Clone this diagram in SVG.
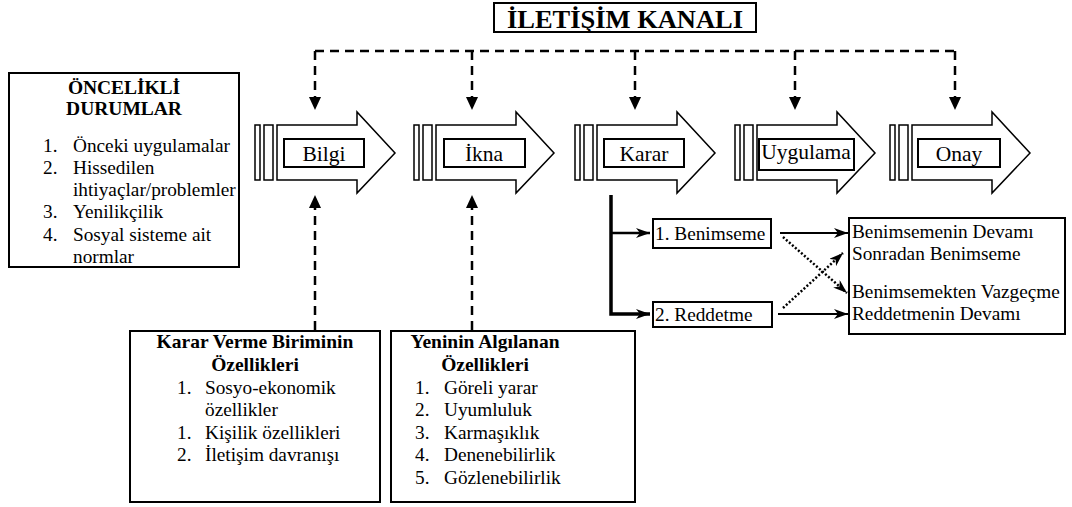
<svg xmlns="http://www.w3.org/2000/svg" width="1072" height="507" viewBox="0 0 1072 507" font-family="'Liberation Serif', 'Times New Roman', serif">
<defs>
<style>
.t{font-family:"Liberation Serif","Times New Roman",serif;font-size:19.3px;fill:#000}
.b{font-family:"Liberation Serif","Times New Roman",serif;font-size:19.5px;font-weight:bold;fill:#000}
.l{font-family:"Liberation Serif","Times New Roman",serif;font-size:21.5px;fill:#000}
.box{fill:#fff;stroke:#000;stroke-width:2}
.arr{fill:#fff;stroke:#000;stroke-width:1.5}
.lbl{fill:#fff;stroke:#000;stroke-width:2}
.dash{fill:none;stroke:#000;stroke-width:2.5;stroke-dasharray:9 6}
.solid{fill:none;stroke:#000;stroke-width:2}
.dot{fill:none;stroke:#000;stroke-width:2.5;stroke-dasharray:2 2}
</style>
<marker id="tri" markerWidth="13" markerHeight="12" refX="13" refY="6" orient="auto" markerUnits="userSpaceOnUse" viewBox="0 0 13 12">
<path d="M0,0 L13,6 L0,12 z" fill="#000"/>
</marker>
<marker id="barb" markerWidth="14" markerHeight="10" refX="14" refY="5" orient="auto" markerUnits="userSpaceOnUse" viewBox="0 0 14 10">
<path d="M0,0 L14,5 L0,10 L4,5 z" fill="#000"/>
</marker>
</defs>
<rect width="1072" height="507" fill="#fff"/>

<g id="title">
<rect x="494" y="3" width="262" height="29" class="box"/>
<text x="507" y="28" class="b" style="font-size:26px" textLength="236" lengthAdjust="spacingAndGlyphs">İLETİŞİM KANALI</text>
</g>

<g id="connectors">
<path class="dash" d="M315,51 L955,51"/>
<path class="dash" d="M315,51 L315,110" marker-end="url(#tri)"/>
<path class="dash" d="M472,51 L472,110" marker-end="url(#tri)"/>
<path class="dash" d="M635,51 L635,110" marker-end="url(#tri)"/>
<path class="dash" d="M795,51 L795,110" marker-end="url(#tri)"/>
<path class="dash" d="M955,51 L955,110" marker-end="url(#tri)"/>
<path class="dash" d="M315,330 L315,195" marker-end="url(#tri)"/>
<path class="dash" d="M472,330 L472,195" marker-end="url(#tri)"/>
<path d="M611,195 L611,314 L650,314" fill="none" stroke="#000" stroke-width="3.5" marker-end="url(#barb)"/>
<path d="M611,233 L650,233" fill="none" stroke="#000" stroke-width="2.5" marker-end="url(#barb)"/>
<path class="solid" d="M780,233 L848,233" marker-end="url(#barb)"/>
<path class="solid" d="M778,314 L848,314" marker-end="url(#barb)"/>
<path class="dot" d="M783,237 L847,293" marker-end="url(#barb)"/>
<path class="dot" d="M783,308 L843,253" marker-end="url(#barb)"/>
</g>

<g id="oncelikli">
<rect x="9" y="73" width="230" height="194" class="box"/>
<text x="68" y="94" class="b" textLength="112" lengthAdjust="spacing">ÖNCELİKLİ</text>
<text x="124" y="115" text-anchor="middle" class="b">DURUMLAR</text>
<text class="t" x="43" y="152">1.</text><text class="t" x="73" y="152">Önceki uygulamalar</text>
<text class="t" x="43" y="174">2.</text><text class="t" x="73" y="174">Hissedilen</text>
<text class="t" x="73" y="196">ihtiyaçlar/problemler</text>
<text class="t" x="43" y="218">3.</text><text class="t" x="73" y="218">Yenilikçilik</text>
<text class="t" x="43" y="241">4.</text><text class="t" x="73" y="241">Sosyal sisteme ait</text>
<text class="t" x="73" y="263">normlar</text>
</g>

<g id="bilgi">
<rect x="255" y="125" width="5" height="55" class="arr"/>
<rect x="264" y="125" width="9" height="55" class="arr"/>
<path d="M277,125 L357,125 L357,112 L395,153 L357,193 L357,180 L277,180 z" class="arr"/>
<rect x="284" y="139" width="80" height="28" class="lbl"/>
<text class="l" x="324" y="161" text-anchor="middle">Bilgi</text>
</g>

<g id="ikna">
<rect x="414" y="125" width="5" height="55" class="arr"/>
<rect x="423" y="125" width="9" height="55" class="arr"/>
<path d="M436,125 L516,125 L516,112 L554,153 L516,193 L516,180 L436,180 z" class="arr"/>
<rect x="444" y="139" width="81" height="28" class="lbl"/>
<text class="l" x="484" y="161" text-anchor="middle">İkna</text>
</g>

<g id="karar">
<rect x="575" y="125" width="5" height="55" class="arr"/>
<rect x="584" y="125" width="9" height="55" class="arr"/>
<path d="M597,125 L677,125 L677,112 L715,153 L677,193 L677,180 L597,180 z" class="arr"/>
<rect x="604" y="139" width="80" height="28" class="lbl"/>
<text class="l" x="644" y="161" text-anchor="middle">Karar</text>
</g>

<g id="uygulama">
<rect x="735" y="125" width="5" height="55" class="arr"/>
<rect x="744" y="125" width="9" height="55" class="arr"/>
<path d="M757,125 L837,125 L837,112 L875,153 L837,193 L837,180 L757,180 z" class="arr"/>
<rect x="759" y="139" width="95" height="31" class="lbl"/>
<text class="l" x="806" y="159" text-anchor="middle">Uygulama</text>
</g>

<g id="onay">
<rect x="890" y="125" width="5" height="55" class="arr"/>
<rect x="899" y="125" width="9" height="55" class="arr"/>
<path d="M912,125 L992,125 L992,112 L1030,153 L992,193 L992,180 L912,180 z" class="arr"/>
<rect x="918" y="139" width="82" height="28" class="lbl"/>
<text class="l" x="959" y="161" text-anchor="middle">Onay</text>
</g>

<g id="benimseme">
<rect x="653" y="219" width="118" height="29" class="box"/>
<text class="t" x="655" y="240">1. Benimseme</text>
</g>

<g id="reddetme">
<rect x="653" y="302" width="119" height="25" class="box"/>
<text class="t" x="655" y="321">2. Reddetme</text>
</g>

<g id="sonuclar">
<rect x="849" y="218" width="216" height="116" class="box"/>
<text class="t" x="852" y="238">Benimsemenin Devamı</text>
<text class="t" x="852" y="260">Sonradan Benimseme</text>
<text class="t" x="852" y="298">Benimsemekten Vazgeçme</text>
<text class="t" x="852" y="320">Reddetmenin Devamı</text>
</g>

<g id="karar-verme">
<rect x="130" y="331" width="250" height="171" class="box"/>
<text class="b" x="255" y="348" text-anchor="middle">Karar Verme Biriminin</text>
<text class="b" x="255" y="371" text-anchor="middle">Özellikleri</text>
<text class="t" x="177" y="394">1.</text><text class="t" x="205" y="394">Sosyo-ekonomik</text>
<text class="t" x="205" y="416">özellikler</text>
<text class="t" x="177" y="439">1.</text><text class="t" x="205" y="439">Kişilik özellikleri</text>
<text class="t" x="177" y="461">2.</text><text class="t" x="205" y="461">İletişim davranışı</text>
</g>

<g id="yeninin">
<rect x="391" y="331" width="244" height="171" class="box"/>
<text class="b" x="485" y="348" text-anchor="middle">Yeninin Algılanan</text>
<text class="b" x="485" y="371" text-anchor="middle">Özellikleri</text>
<text class="t" x="415" y="394">1.</text><text class="t" x="444" y="394">Göreli yarar</text>
<text class="t" x="415" y="416">2.</text><text class="t" x="444" y="416">Uyumluluk</text>
<text class="t" x="415" y="439">3.</text><text class="t" x="444" y="439">Karmaşıklık</text>
<text class="t" x="415" y="461">4.</text><text class="t" x="444" y="461">Denenebilirlik</text>
<text class="t" x="415" y="484">5.</text><text class="t" x="444" y="484">Gözlenebilirlik</text>
</g>
</svg>
